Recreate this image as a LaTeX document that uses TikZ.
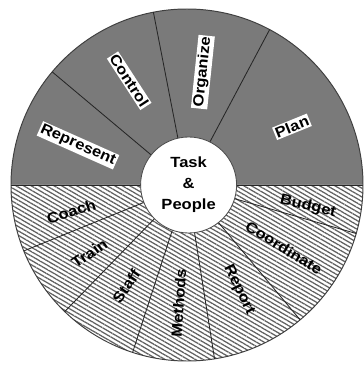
\documentclass[tikz,border=0pt]{standalone}
\usepackage{fontspec}
\setmainfont{Liberation Sans}[FakeStretch=1.12]
\usetikzlibrary{patterns.meta}
\def\outerR{4.4}
\def\innerR{1.175}
\tikzset{
	word/.style={inner sep=0.9pt, font=\fontsize{10.5}{12}\selectfont\bfseries},
	boxword/.style={word, fill=white},
	spoke/.style={line width=0.6pt, color=black!85},
	hatch/.style={pattern={Lines[angle=-30,distance=2.7pt,line width=0.9pt]}, pattern color=black!62}
}

\begin{document}
\begin{tikzpicture}
			%%%%% START %%%%%
			\useasboundingbox (-4.675,-4.5) rectangle (4.425,4.625);
			
			% upper half, plain grey
			\fill[black!52] (0,0) -- (0:\outerR) arc (0:180:\outerR) -- cycle;
			
			% lower half, hatched
			\fill[white] (0,0) -- (180:\outerR) arc (180:360:\outerR) -- cycle;
			\fill[hatch] (0,0) -- (180:\outerR) arc (180:360:\outerR) -- cycle;
			\draw[spoke] (180:\outerR) -- (0:\outerR);
			
			\draw[line width=0.7pt, color=black!75] (0,0) circle (\outerR);
			
			% spokes, upper half
			\draw[spoke] (62:\innerR) -- (62:\outerR);
			\draw[spoke] (101:\innerR) -- (101:\outerR);
			\draw[spoke] (140:\innerR) -- (140:\outerR);
			
			% spokes, lower half
			\draw[spoke] (-16:\innerR) -- (-16:\outerR);
			\draw[spoke] (-50:\innerR) -- (-50:\outerR);
			\draw[spoke] (-81:\innerR) -- (-81:\outerR);
			\draw[spoke] (-108:\innerR) -- (-108:\outerR);
			\draw[spoke] (-134:\innerR) -- (-134:\outerR);
			\draw[spoke] (-158:\innerR) -- (-158:\outerR);
			
			% hub
			\node[circle, fill=white, draw=black!70, line width=0.6pt, minimum size=2.4cm, inner sep=0pt,
				align=center, font=\fontsize{10.5}{15}\selectfont\bfseries] (hub) at (0.04,0) {Task\\\&\\People};
			
			% words on the grey half
			\node[boxword, rotate=-24] (represent) at (160:2.9) {Represent};
			\node[boxword, rotate=-57] (control) at (119:2.98) {Control};
			\node[boxword, rotate=84] (organize) at (82:2.85) {Organize};
			\node[boxword, rotate=22] (plan) at (29:3.0) {Plan};
			
			% words on the hatched half
			\node[word, rotate=-13] (budget) at (-10:3.07) {Budget};
			\node[word, rotate=-32] (coordinate) at (-33:2.89) {Coordinate};
			\node[word, rotate=-64] (report) at (-63.7:2.93) {Report};
			\node[word, rotate=86] (methods) at (-94:2.96) {Methods};
			\node[word, rotate=55] (staff) at (-121:2.95) {Staff};
			\node[word, rotate=34] (train) at (-145:2.98) {Train};
			\node[word, rotate=18] (coach) at (-167:2.97) {Coach};
			
			%%%%% END %%%%%
\end{tikzpicture}
\end{document}
